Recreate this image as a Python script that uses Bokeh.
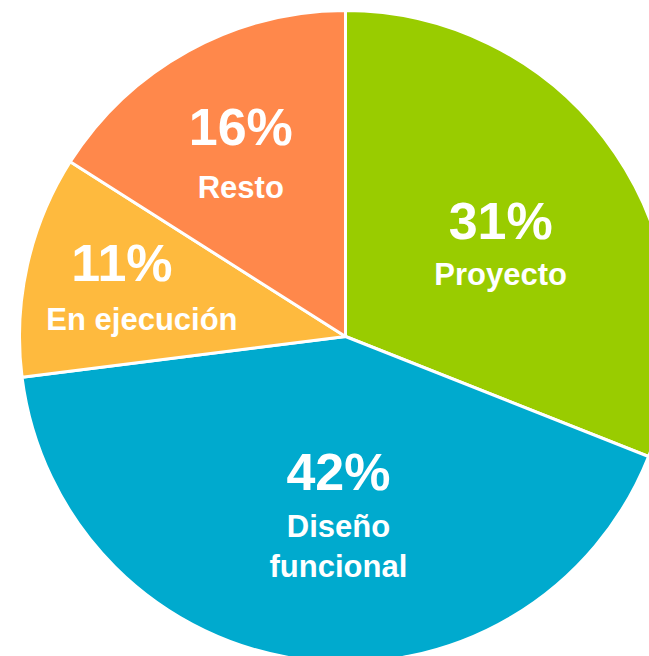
import math
from bokeh.plotting import figure
from bokeh.models import Range1d, ColumnDataSource
from bokeh.core.properties import value
from bokeh.embed import file_html
from bokeh.resources import INLINE

# --- data ---
categories = ["Proyecto", "Diseño\nfuncional", "En ejecución", "Resto"]
shares = [31, 42, 11, 16]
colors = ["#99CC00", "#00AACE", "#FEBA3E", "#FF884B"]

# --- layout ---
W, H = 649, 656
cx, cy, R = 345, -336, 326
num_r = [182, 156, 220, 216]        # radial distance of the percentage baseline
ang_adj = [2.7, -4.6, 1.3, -0.2]    # degrees added to slice mid-angle for label anchor
num_dx = [0, 0, -10, 0]
lab_dx = [0, 0, 10, 0]
lab_gap = [44, 45, 47, 51]          # percentage baseline -> first label baseline
NUM_FS, LAB_FS = 52, 31

total = sum(shares)
starts, ends, mids = [], [], []
acc = 0.0
for s in shares:
    a0 = acc / total
    acc += s
    a1 = acc / total
    starts.append(math.pi / 2 - 2 * math.pi * a0)
    ends.append(math.pi / 2 - 2 * math.pi * a1)
    mids.append(2 * math.pi * (a0 + a1) / 2)  # clockwise from top

p = figure(width=W, height=H, x_range=Range1d(0, W), y_range=Range1d(-H, 0),
           output_backend="svg", toolbar_location=None, min_border=0,
           outline_line_color=None, background_fill_color="white")
p.axis.visible = False
p.grid.visible = False

src = ColumnDataSource(dict(start=starts, end=ends, color=colors))
p.wedge(x=cx, y=cy, radius=R, start_angle="start", end_angle="end", direction="clock",
        fill_color="color", line_color="white", line_width=3, source=src)

nx, ny, ntxt, lx, ly, ltxt = [], [], [], [], [], []
for k, (cat, s, m) in enumerate(zip(categories, shares, mids)):
    a = m + math.radians(ang_adj[k])
    x = cx + num_r[k] * math.sin(a)
    yb = cy + num_r[k] * math.cos(a)          # desired baseline of percentage
    nx.append(x + num_dx[k]); ny.append(yb + 0.4 * NUM_FS); ntxt.append(f"{s}%")
    for i, line in enumerate(cat.split("\n")):
        lb = yb - lab_gap[k] - 40 * i
        lx.append(x + lab_dx[k]); ly.append(lb + 0.35 * LAB_FS); ltxt.append(line)

p.text(x=nx, y=ny, text=ntxt, text_font=value("Liberation Sans"), text_font_style="bold",
       text_font_size=f"{NUM_FS}px", text_color="white", text_align="center",
       text_baseline="alphabetic")
p.text(x=lx, y=ly, text=ltxt, text_font=value("Liberation Sans"), text_font_style="bold",
       text_font_size=f"{LAB_FS}px", text_color="white", text_align="center",
       text_baseline="alphabetic")

open("out.html", "w").write(file_html(p, INLINE))
